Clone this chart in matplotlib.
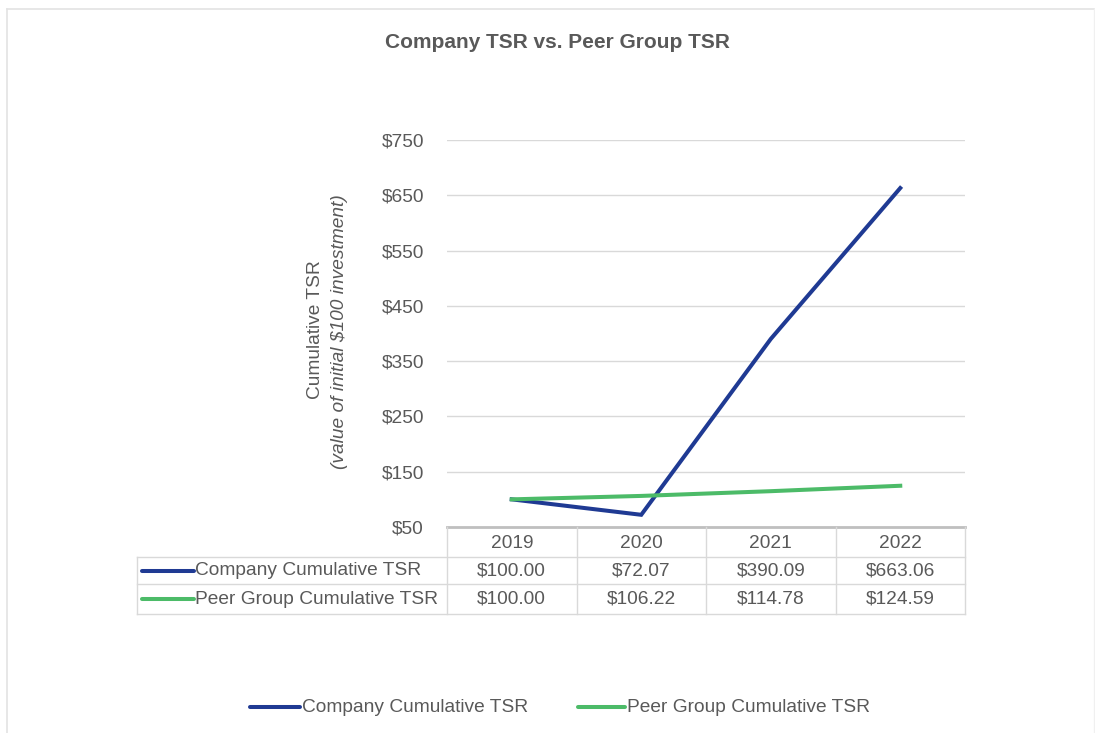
import numpy as np
import matplotlib
matplotlib.use("Agg")
import matplotlib.pyplot as plt
from matplotlib.lines import Line2D

plt.rcParams['font.family'] = ['Liberation Sans', 'DejaVu Sans']

# Datos del gráfico
years = ['2019', '2020', '2021', '2022']
company_tsr = [100.00, 72.07, 390.09, 663.06]
peer_tsr = [100.00, 106.22, 114.78, 124.59]
series_names = ['Company Cumulative TSR', 'Peer Group Cumulative TSR']
y_ticks = [50, 150, 250, 350, 450, 550, 650, 750]

BLUE = '#1f3a93'
GREEN = '#4cbb68'
TEXT = '#595959'
GRID = '#d9d9d9'
FS = 13.8

W, H = 1095, 733
fig = plt.figure(figsize=(W / 100, H / 100), dpi=100)

def fx(px):
    return px / W

def fy(py):
    return 1 - py / H

# Borde exterior claro
fig.add_artist(Line2D([fx(7), fx(1094)], [fy(9), fy(9)], color='#e3e3e3', lw=1.2))
fig.add_artist(Line2D([fx(7), fx(7)], [fy(9), fy(733)], color='#e3e3e3', lw=1.2))
fig.add_artist(Line2D([fx(1094), fx(1094)], [fy(9), fy(733)], color='#f0f0f0', lw=1.0))

# Ejes principales
x_left, x_right, y_top, y_bot = 447, 965, 140, 527
ax = fig.add_axes([fx(x_left), fy(y_bot), fx(x_right - x_left), fy(y_top) - fy(y_bot)])
x = np.arange(len(years))
ax.plot(x, company_tsr, color=BLUE, lw=2.9, solid_joinstyle='miter')
ax.plot(x, peer_tsr, color=GREEN, lw=2.9)
ax.set_xlim(-0.5, len(years) - 0.5)
ax.set_ylim(50, 750)
ax.set_yticks(y_ticks)
ax.set_yticklabels([f'${v}' for v in y_ticks])
ax.set_xticks([])
for v in y_ticks[1:]:
    ax.axhline(v, color=GRID, lw=1.0, zorder=0)
for s in ['top', 'right', 'left', 'bottom']:
    ax.spines[s].set_visible(False)
ax.tick_params(axis='y', length=0, pad=16.5, labelsize=FS, labelcolor=TEXT)
fig.text(fx(315), fy(330), 'Cumulative TSR', rotation=90, ha='center', va='center',
         fontsize=FS, color=TEXT)
fig.text(fx(340), fy(332), '(value of initial $100 investment)', rotation=90,
         ha='center', va='center', fontsize=FS, color=TEXT, style='italic')

# Tabla de datos
tab_left, tab_bot = 137, 614
unit = (x_right - x_left) / len(years)
label_w = (x_left - tab_left) / unit
tax = fig.add_axes([fx(tab_left), fy(tab_bot), fx(x_right - tab_left), fy(y_bot) - fy(tab_bot)])
tax.set_xlim(-0.5 - label_w, len(years) - 0.5)
tax.set_ylim(3, 0)
tax.axis('off')
row_h = [0, 1.03, 1.98, 3]
# líneas horizontales
tax.plot([-0.5, len(years) - 0.5], [0, 0], color='#bfbfbf', lw=2.0, clip_on=False)
for yy in row_h[1:]:
    tax.plot([-0.5 - label_w, len(years) - 0.5], [yy, yy], color=GRID, lw=1.0, clip_on=False)
# líneas verticales
for i in range(len(years) + 1):
    tax.plot([i - 0.5, i - 0.5], [0, 3], color=GRID, lw=1.0, clip_on=False)
tax.plot([-0.5 - label_w] * 2, [row_h[1], 3], color=GRID, lw=1.0, clip_on=False)

for i, yr in enumerate(years):
    tax.text(i, (row_h[0] + row_h[1]) / 2 + 0.05, yr, ha='center', va='center', fontsize=FS, color=TEXT)
for r, (vals, color, name) in enumerate([(company_tsr, BLUE, series_names[0]),
                                         (peer_tsr, GREEN, series_names[1])]):
    yc = (row_h[r + 1] + row_h[r + 2]) / 2
    for i, v in enumerate(vals):
        tax.text(i, yc, f'${v:,.2f}', ha='center', va='center', fontsize=FS, color=TEXT)
    x0 = -0.5 - label_w + 5 / unit
    tax.plot([x0, x0 + 52 / unit], [yc, yc], color=color, lw=2.9, solid_capstyle='round')
    tax.text(x0 + 53 / unit, yc, name, ha='left', va='center', fontsize=FS, color=TEXT)

# Título
fig.text(fx(557), fy(43), 'Company TSR vs. Peer Group TSR', ha='center', va='center',
         fontsize=15, fontweight='bold', color=TEXT)

# Leyenda inferior
leg_y = fy(707)
fig.add_artist(Line2D([fx(250), fx(300)], [leg_y, leg_y], color=BLUE, lw=2.9, solid_capstyle='round'))
fig.text(fx(302), leg_y, series_names[0], ha='left', va='center', fontsize=FS, color=TEXT)
fig.add_artist(Line2D([fx(578), fx(625)], [leg_y, leg_y], color=GREEN, lw=2.9, solid_capstyle='round'))
fig.text(fx(627), leg_y, series_names[1], ha='left', va='center', fontsize=FS, color=TEXT)

fig.savefig('out.png', dpi=100, facecolor='white')
